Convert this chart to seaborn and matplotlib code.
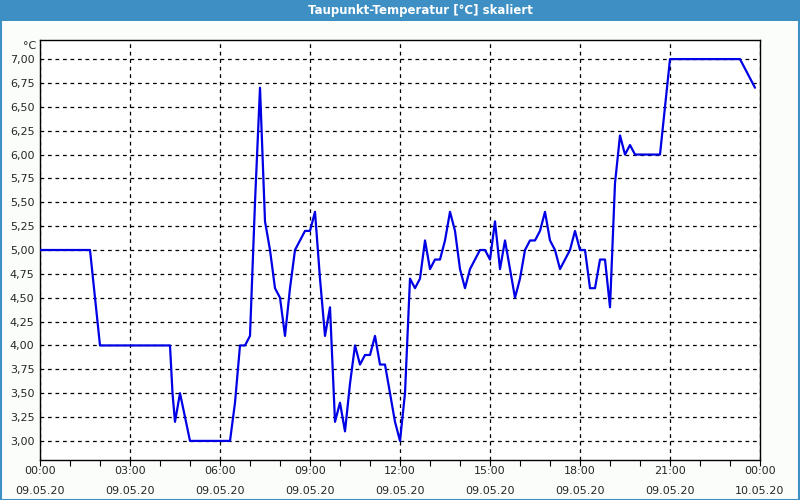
import matplotlib
matplotlib.use("Agg")
import matplotlib.pyplot as plt
import matplotlib.dates as mdates
from matplotlib.ticker import FuncFormatter
from matplotlib.patches import Rectangle
import seaborn as sns
import pandas as pd

# ---- data ----
day = "2020-05-09"
times = ["00:00", "01:40", "01:50", "02:00", "04:20", "04:25", "04:30", "04:40", "04:50", "05:00",
         "06:20", "06:30", "06:40", "06:50", "07:00", "07:10", "07:20", "07:30", "07:40", "07:50",
         "08:00", "08:10", "08:20", "08:30", "08:40", "08:50", "09:00", "09:10", "09:20", "09:30",
         "09:40", "09:50", "10:00", "10:10", "10:20", "10:30", "10:40", "10:50", "11:00", "11:10",
         "11:20", "11:30", "11:40", "11:50", "12:00", "12:10", "12:20", "12:30", "12:40", "12:50",
         "13:00", "13:10", "13:20", "13:30", "13:40", "13:50", "14:00", "14:10", "14:20", "14:30",
         "14:40", "14:50", "15:00", "15:10", "15:20", "15:30", "15:40", "15:50", "16:00", "16:10",
         "16:20", "16:30", "16:40", "16:50", "17:00", "17:10", "17:20", "17:30", "17:40", "17:50",
         "18:00", "18:10", "18:20", "18:30", "18:40", "18:50", "19:00", "19:10", "19:20", "19:30",
         "19:40", "19:50", "20:40", "21:00", "23:20", "23:50"]
values = [5.0, 5.0, 4.5, 4.0, 4.0, 3.5, 3.2, 3.5, 3.25, 3.0,
          3.0, 3.4, 4.0, 4.0, 4.1, 5.5, 6.7, 5.3, 5.0, 4.6,
          4.5, 4.1, 4.6, 5.0, 5.1, 5.2, 5.2, 5.4, 4.7, 4.1,
          4.4, 3.2, 3.4, 3.1, 3.6, 4.0, 3.8, 3.9, 3.9, 4.1,
          3.8, 3.8, 3.5, 3.2, 3.0, 3.5, 4.7, 4.6, 4.7, 5.1,
          4.8, 4.9, 4.9, 5.1, 5.4, 5.2, 4.8, 4.6, 4.8, 4.9,
          5.0, 5.0, 4.9, 5.3, 4.8, 5.1, 4.8, 4.5, 4.7, 5.0,
          5.1, 5.1, 5.2, 5.4, 5.1, 5.0, 4.8, 4.9, 5.0, 5.2,
          5.0, 5.0, 4.6, 4.6, 4.9, 4.9, 4.4, 5.7, 6.2, 6.0,
          6.1, 6.0, 6.0, 7.0, 7.0, 6.7]
title = "Taupunkt-Temperatur [°C] skaliert"
unit = "°C"
x_start = "2020-05-09 00:00"
x_end = "2020-05-10 00:00"
y_min, y_max = 2.8, 7.2
y_ticks = [3.0, 3.25, 3.5, 3.75, 4.0, 4.25, 4.5, 4.75, 5.0, 5.25, 5.5, 5.75, 6.0, 6.25, 6.5, 6.75, 7.0]

df = pd.DataFrame({"time": pd.to_datetime([f"{day} {t}" for t in times]), "value": values})

sns.set_style("white")
plt.rcParams["font.family"] = ["DejaVu Sans"]

fig = plt.figure(figsize=(8, 5), dpi=100, facecolor="#fbfdfb")
ax = fig.add_axes([40 / 800, 1 - 460 / 500, 720 / 800, 420 / 500])
ax.set_facecolor("white")

sns.lineplot(data=df, x="time", y="value", ax=ax, color="#0000e6", linewidth=1.6, zorder=3)

ax.set_xlim(pd.Timestamp(x_start), pd.Timestamp(x_end))
ax.set_ylim(y_min, y_max)
ax.set_yticks(y_ticks)
ax.yaxis.set_major_formatter(FuncFormatter(lambda v, p: f"{v:.2f}".replace(".", ",")))

ax.xaxis.set_major_locator(mdates.HourLocator(interval=3))
ax.xaxis.set_minor_locator(mdates.HourLocator(interval=1))
ax.xaxis.set_major_formatter(mdates.DateFormatter("%H:%M\n%d.%m.%y"))

ax.grid(True, which="major", color="black", linestyle=(0, (3, 3)), linewidth=0.9)
ax.set_xlabel("")
ax.set_ylabel("")

for s in ax.spines.values():
    s.set_color("black")
    s.set_linewidth(1.0)

ax.tick_params(axis="x", which="both", direction="out", length=4, width=0.8, color="black",
               labelsize=8, pad=0.5, bottom=True)
ax.tick_params(axis="y", which="both", length=0, labelsize=8, pad=4, left=True)
for lbl in ax.get_xticklabels():
    lbl.set_linespacing(2.2)

# unit label above y-axis
fig.text(36 / 800, 1 - 46 / 500, unit, ha="right", va="center", fontsize=8)

# title bar
fig.patches.append(Rectangle((0, 1 - 21 / 500), 1, 21 / 500, transform=fig.transFigure,
                             facecolor="#3d8fc4", edgecolor="none", zorder=0))
fig.text(420 / 800, 1 - 10.5 / 500, title, ha="center", va="center", fontsize=8.5,
         fontweight="bold", color="white")
# window border
fig.patches.append(Rectangle((0.5 / 800, 0.5 / 500), 798.5 / 800, 498 / 500, transform=fig.transFigure,
                             facecolor="none", edgecolor="#3d8fc4", linewidth=1.5, zorder=0))

fig.savefig("out.png", dpi=100, facecolor=fig.get_facecolor())
